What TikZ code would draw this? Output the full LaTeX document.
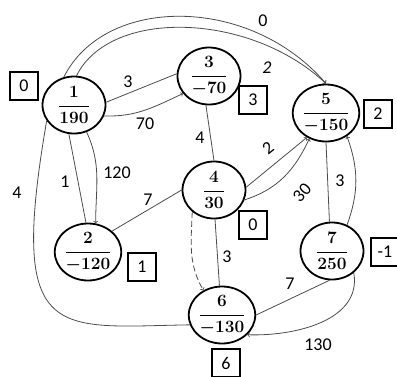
\documentclass[tikz,border=0pt]{standalone}
\usepackage{amsmath}
\usepackage{fontspec}
\usetikzlibrary{shapes.geometric, positioning}
\newfontfamily\lblfont{Carlito}
\definecolor{edgegray}{rgb}{0.3, 0.3, 0.3}

\begin{document}
\begin{tikzpicture}[x=1pt, y=-1pt]
        \tikzstyle{vert}=[ellipse, draw, line width=1.8pt, minimum width=63pt, minimum height=57pt, inner sep=0pt, font=\fontsize{17}{20}\selectfont\boldmath]
        \tikzstyle{tag}=[draw, line width=1.8pt, minimum size=28pt, inner sep=0pt, font=\lblfont\fontsize{18}{20}\selectfont]
        \tikzstyle{arc}=[edgegray, line width=0.8pt]
        \tikzstyle{wt}=[inner sep=0pt, font=\lblfont\fontsize{18}{20}\selectfont]

        \useasboundingbox (0,0) rectangle (397,376);

        % Vertices (number over potential)
        \node[vert] (v1) at (74,105) {$\dfrac{1}{190}$};
        \node[vert] (v2) at (88,252) {$\dfrac{2}{-120}$};
        \node[vert] (v3) at (209,76) {$\dfrac{3}{-70}$};
        \node[vert] (v4) at (214,190) {$\dfrac{4}{30}$};
        \node[vert] (v5) at (326,113) {$\dfrac{5}{-150}$};
        \node[vert] (v6) at (222,315) {$\dfrac{6}{-130}$};
        \node[vert] (v7) at (332,251) {$\dfrac{7}{250}$};

        % Boxed values next to the vertices
        \node[tag] (t1) at (24,86) {0};
        \node[tag] (t2) at (142,267) {1};
        \node[tag] (t3) at (253,100) {3};
        \node[tag] (t4) at (253,225) {0};
        \node[tag] (t5) at (378,114) {2};
        \node[tag] (t6) at (226,363) {6};
        \node[tag] (t7) at (385,252) {-1};

        % Arcs out of vertex 1
        \draw[arc, ->] (v1.110) .. controls (105,-5) and (250,-5) .. (v5.north);
        \draw[arc, ->] (v1.85) .. controls (110,8) and (250,12) .. (v5.north);
        \draw[arc] (v1.5) -- (v3.176);
        \draw[arc, ->] (v1.-20) to[out=-2, in=205] (v3.214);
        \draw[arc] (v1.-100) -- (v2.94);
        \draw[arc, ->] (v1.-65) to[out=-65, in=90] (v2.75);
        \draw[arc] (v1.-150) .. controls (8,345) and (55,327) .. (v6.197);

        % Arcs around vertex 4
        \draw[arc] (v3.-96) -- (v4.90);
        \draw[arc] (v4.180) -- (v2.41);
        \draw[arc, ->] (v4.5) -- (v5.232);
        \draw[arc, ->] (v4.-18) to[out=18, in=245] (v5.237);
        \draw[arc, dash pattern=on 6pt off 3pt, ->] (v4.225) to[out=-92, in=120] (v6.127);
        \draw[arc] (v4.-88) -- (v6.95);

        % Arcs out of vertex 7
        \draw[arc] (v7.95) -- (v5.-90);
        \draw[arc, ->] (v7.60) to[out=70, in=-70] (v5.-48);
        \draw[arc] (v7.-95) -- (v6.0);
        \draw[arc, ->] (v7.-45) to[out=-80, in=-2] (v6.-38);

        % Weights
        \node[wt] (w15a) at (263,21) {0};
        \node[wt] (w15b) at (267,68) {\itshape 2};
        \node[wt] (w13a) at (128,82) {3};
        \node[wt] (w13b) at (145,124) {70};
        \node[wt] (w34) at (200,138) {4};
        \node[wt] (w12a) at (65,182) {1};
        \node[wt] (w12b) at (117,173) {120};
        \node[wt] (w16) at (17,193) {4};
        \node[wt] (w42) at (148,200) {7};
        \node[wt, rotate=39] (w45a) at (268,148) {2};
        \node[wt, rotate=48] (w45b) at (302,193) {30};
        \node[wt] (w46) at (227,257) {3};
        \node[wt] (w75) at (340,181) {3};
        \node[wt] (w76a) at (290,284) {7};
        \node[wt] (w76b) at (318,345) {130};
    \end{tikzpicture}
\end{document}
